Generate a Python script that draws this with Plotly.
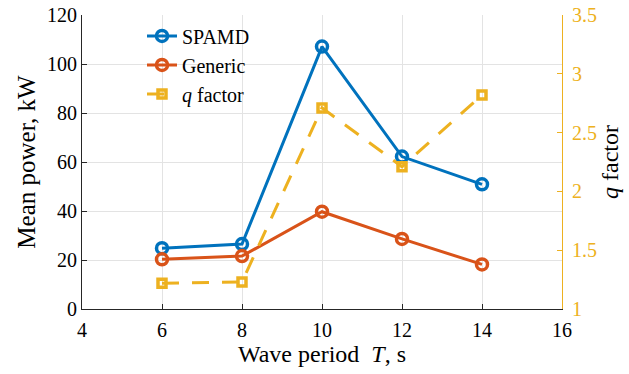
import plotly.graph_objects as go

# Wave periods (s)
periods = [6, 8, 10, 12, 14]

# Mean absorbed power (kW)
spamd_power = [24.8, 26.5, 107.1, 62.2, 50.9]
generic_power = [20.3, 21.6, 39.7, 28.6, 18.2]

# Ratio of SPAMD to generic power
q_factor = [1.22, 1.23, 2.71, 2.21, 2.82]

x_ticks = [4, 6, 8, 10, 12, 14, 16]
left_ticks = [0, 20, 40, 60, 80, 100, 120]
right_ticks = [1, 1.5, 2, 2.5, 3, 3.5]
right_tick_text = ["1", "1.5", "2", "2.5", "3", "3.5"]

BLUE = "#0072BD"
ORANGE = "#D95319"
YELLOW = "#EDB120"
FONT = "Liberation Serif"
GRID = "#e3e3e3"

fig = go.Figure()

fig.add_trace(go.Scatter(
    x=periods, y=spamd_power, name="SPAMD", mode="lines+markers",
    line=dict(color=BLUE, width=3),
    marker=dict(symbol="circle-open", size=11, color=BLUE, line=dict(width=3.5)),
))
fig.add_trace(go.Scatter(
    x=periods, y=generic_power, name="Generic", mode="lines+markers",
    line=dict(color=ORANGE, width=3),
    marker=dict(symbol="circle-open", size=11, color=ORANGE, line=dict(width=3.5)),
))
fig.add_trace(go.Scatter(
    x=periods, y=q_factor, name="<i>q</i> factor", mode="lines+markers",
    yaxis="y2",
    line=dict(color=YELLOW, width=3, dash="17px,13px"),
    marker=dict(symbol="square-open", size=8, color=YELLOW, line=dict(width=3.5)),
))

fig.update_layout(
    width=629, height=374,
    margin=dict(l=82, r=67, t=15, b=65, autoexpand=False),
    paper_bgcolor="white", plot_bgcolor="white",
    font=dict(family=FONT, size=20, color="black"),
    showlegend=True,
    legend=dict(
        x=0.125, y=0.995, xanchor="left", yanchor="top",
        bgcolor="rgba(0,0,0,0)", font=dict(family=FONT, size=20),
        tracegroupgap=0, itemwidth=30,
    ),
    xaxis=dict(
        range=[4, 16], tickvals=x_ticks, ticktext=[str(v) for v in x_ticks],
        showgrid=True, gridcolor=GRID, gridwidth=1, zeroline=False,
        showline=True, linecolor="#262626", linewidth=1,
        ticks="inside", ticklen=5, tickcolor="#262626",
        tickfont=dict(family=FONT, size=20), ticklabelstandoff=3,
        automargin=False,
        title=dict(text="Wave period  <i>T</i>, s", font=dict(family=FONT, size=24),
                   standoff=4),
    ),
    yaxis=dict(
        range=[0, 120], tickvals=left_ticks,
        showgrid=True, gridcolor=GRID, gridwidth=1, zeroline=False,
        showline=True, linecolor="#262626", linewidth=1,
        ticks="inside", ticklen=5, tickcolor="#262626",
        tickfont=dict(family=FONT, size=20),
        automargin=False,
        title=dict(text="Mean power, kW", font=dict(family=FONT, size=25), standoff=4),
    ),
    yaxis2=dict(
        range=[1, 3.5], tickvals=right_ticks, ticktext=right_tick_text,
        overlaying="y", side="right", anchor="x",
        showgrid=False, zeroline=False,
        showline=True, linecolor=YELLOW, linewidth=1,
        ticks="inside", ticklen=5, tickcolor=YELLOW,
        tickfont=dict(family=FONT, size=20, color=YELLOW), ticklabelstandoff=5,
        automargin=False,
        title=dict(text="<i>q</i> factor", font=dict(family=FONT, size=24, color="black"),
                   standoff=4),
    ),
)

fig.write_html("out.html")
